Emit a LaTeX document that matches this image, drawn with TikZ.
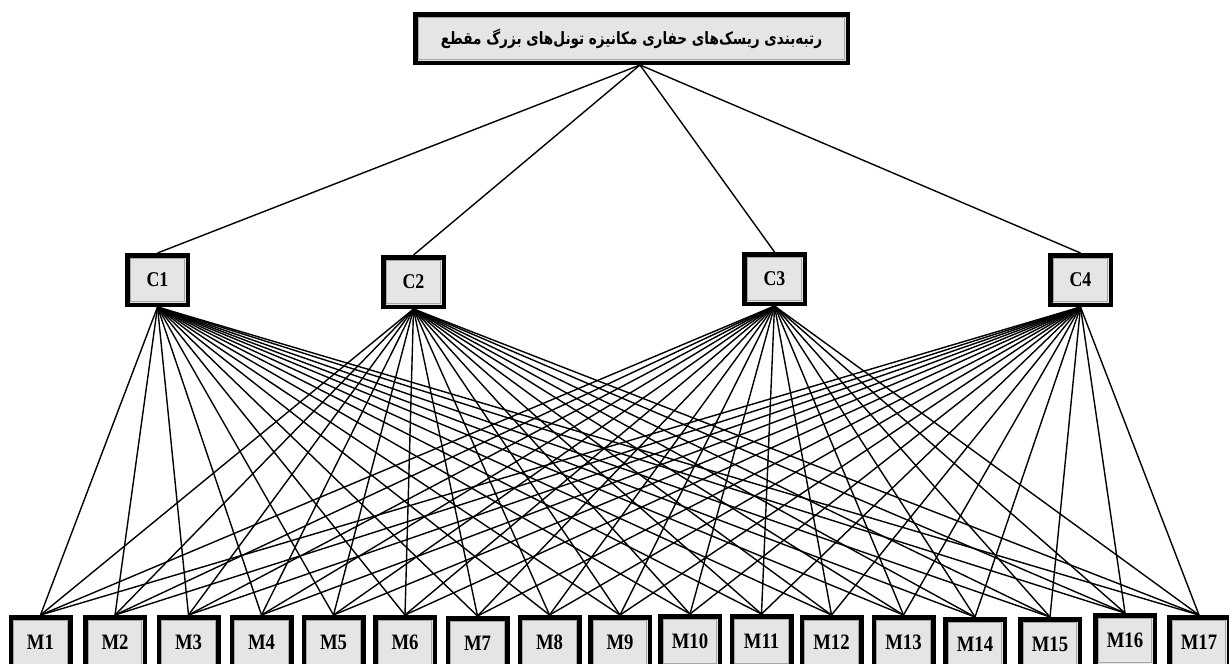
\documentclass[tikz,border=0pt]{standalone}
\usepackage{fontspec}
\setmainfont{Liberation Serif}
\newfontfamily\lblfont[FakeStretch=0.85]{Liberation Serif}
\newfontfamily\arabicfont[Script=Arabic,FakeStretch=0.8]{DejaVu Sans}
\TeXXeTstate=1
\tikzset{
  box/.style={draw=black, line width=4.5pt, fill=gray!20, rectangle, inner sep=0pt,
    path picture={\draw[gray!70, line width=0.8pt]
      ([shift={(3pt,3pt)}]path picture bounding box.south west) rectangle
      ([shift={(-3pt,-3pt)}]path picture bounding box.north east);}},
  topbox/.style={box, minimum width=432.5pt, minimum height=48.5pt},
  cbox/.style={box, minimum width=60.5pt, minimum height=49.5pt,
    font=\lblfont\bfseries\fontsize{21}{21}\selectfont},
  mbox/.style={box, minimum width=59.5pt, minimum height=50.5pt,
    font=\lblfont\bfseries\fontsize{22}{22}\selectfont},
  link/.style={line width=1.4pt, black},
}
\begin{document}
\begin{tikzpicture}[x=1pt,y=-1pt]
\useasboundingbox (0,0) rectangle (1229,664);
\clip (0,0) rectangle (1229,664);
\node[topbox] (T) at (631.5,38.5)
  {\arabicfont\bfseries\fontsize{17}{17}\selectfont\beginR رتبه^^^^200cبندی ریسک^^^^200cهای حفاری مکانیزه تونل^^^^200cهای بزرگ مقطع\endR};
\foreach \i/\x/\t in {1/157.5/253, 2/413.5/255, 3/774.5/252, 4/1080.5/253}
  \node[cbox] (C\i) at (\x,\t+27) {C\i};
\foreach \i/\x/\t in {1/40.5/615, 2/115/615, 3/188.5/615, 4/261.5/615, 5/333.5/615,
  6/405/615, 7/477.5/616, 8/549.5/615, 9/620/615, 10/690/614, 11/761.5/614,
  12/831.5/615, 13/903.5/615, 14/975/617, 15/1050/617, 16/1125/613, 17/1199/615}
  \node[mbox] (M\i) at (\x,\t+27.5) {M\i};
\foreach \c in {1,...,4}
  \draw[link] ([xshift=8.5pt]T.south) -- (C\c.north);
\foreach \c in {1,...,4}
  \foreach \m in {1,...,17}
    \draw[link] (C\c.south) -- (M\m.north);
\end{tikzpicture}
\end{document}
